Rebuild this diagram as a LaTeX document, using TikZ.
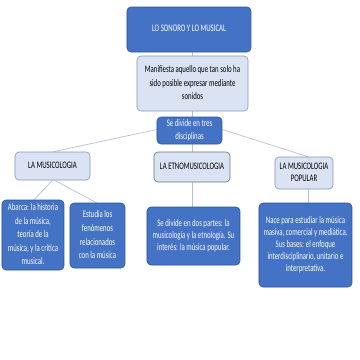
\documentclass[tikz,border=0pt]{standalone}
\usepackage{fontspec}
\usepackage{graphicx}
\setmainfont{Carlito}
\usetikzlibrary{backgrounds}
\definecolor{dblue}{HTML}{4472C4}
\definecolor{dborder}{HTML}{2F5597}
\definecolor{lblue}{HTML}{DAE3F3}
\definecolor{lborder}{HTML}{8497B0}
\definecolor{eborder}{HTML}{6F6F6F}
\definecolor{conn}{HTML}{B4C2D8}
\newcommand{\cz}[1]{\scalebox{0.68}[1]{\begin{tabular}{@{}c@{}}#1\end{tabular}}}
\begin{document}
\begin{tikzpicture}[x=1pt,y=-1pt,
  box/.style={rounded corners=4pt, align=center, inner sep=1pt, line width=0.6pt,
    font=\fontsize{10}{12.2}\selectfont},
  dark/.style={box, draw=dborder, fill=dblue, text=white},
  light/.style={box, draw=lborder, fill=lblue, text=black},
  conline/.style={draw=conn, line width=0.7pt}]
% nodes
\node[dark, minimum width=124pt, minimum height=45pt] (top) at (189,29.5) {\cz{LO SONORO Y LO MUSICAL}};
\node[light, minimum width=111pt, minimum height=55pt, font=\fontsize{10}{13.3}\selectfont] (manif) at (192.5,83.5) {\cz{Manifiesta aquello que tan solo ha\\ sido posible expresar mediante\\ sonidos}};
\node[dark, minimum width=65pt, minimum height=27pt] (divide) at (189.5,130.5) {\cz{Se divide en tres\\ disciplinas}};
\node[light, minimum width=75pt, minimum height=28pt] (musico) at (52.5,166) {\cz{LA MUSICOLOGIA}};
\node[light, draw=eborder, minimum width=76pt, minimum height=30pt] (etno) at (192,167) {\cz{LA ETNOMUSICOLOGIA}};
\node[light, minimum width=58pt, minimum height=32pt] (popular) at (304,173) {\cz{LA MUSICOLOGIA\\ POPULAR}};
\node[dark, minimum width=62pt, minimum height=66pt, font=\fontsize{10}{13.6}\selectfont] (abarca) at (33,235) {\cz{Abarca: la historia\\ de la música,\\ teoría de la\\ música, y la crítica\\ musical.}};
\node[dark, minimum width=55pt, minimum height=65pt, font=\fontsize{10}{13.6}\selectfont] (estudia) at (97.5,235.5) {\cz{Estudia los\\ fenómenos\\ relacionados\\ con la música}};
\node[dark, minimum width=93pt, minimum height=58pt, font=\fontsize{10}{11.8}\selectfont] (etnochild) at (193.5,236) {\cz{Se divide en dos partes: la\\ musicología y la etnología. Su\\ interés: la música popular.}};
\node[dark, minimum width=93pt, minimum height=84pt] (popchild) at (305.5,245) {\cz{Nace para estudiar la música\\ masiva, comercial y mediática.\\ Sus bases: el enfoque\\ interdisciplinario, unitario e\\ interpretativa.}};
% connectors (behind)
\begin{scope}[on background layer]
\fill[white] (0,0) rectangle (360,360);
\draw[conline] (top.south -| etno.north) -- (manif.north -| etno.north);
\draw[conline] (manif.south -| etno.north) -- (divide.north -| etno.north);
\draw[conline] (divide.south -| etno.north) -- (etno.north);
\draw[conline] (etno.south) -- (etnochild.north -| etno.south);
\draw[conline] ([yshift=1pt]divide.west) -- ([xshift=1pt]musico.north);
\draw[conline] ([yshift=1pt]divide.east) -- ([xshift=4pt]popular.north);
\draw[conline] (musico.south) -- ([xshift=1pt]abarca.north);
\draw[conline] ([xshift=2pt]musico.south) -- ([xshift=-1pt]estudia.north);
\draw[conline] ([xshift=4pt]popular.south) -- ([xshift=2.5pt]popchild.north);
\end{scope}
\useasboundingbox (0,0) rectangle (360,360);
\end{tikzpicture}
\end{document}
